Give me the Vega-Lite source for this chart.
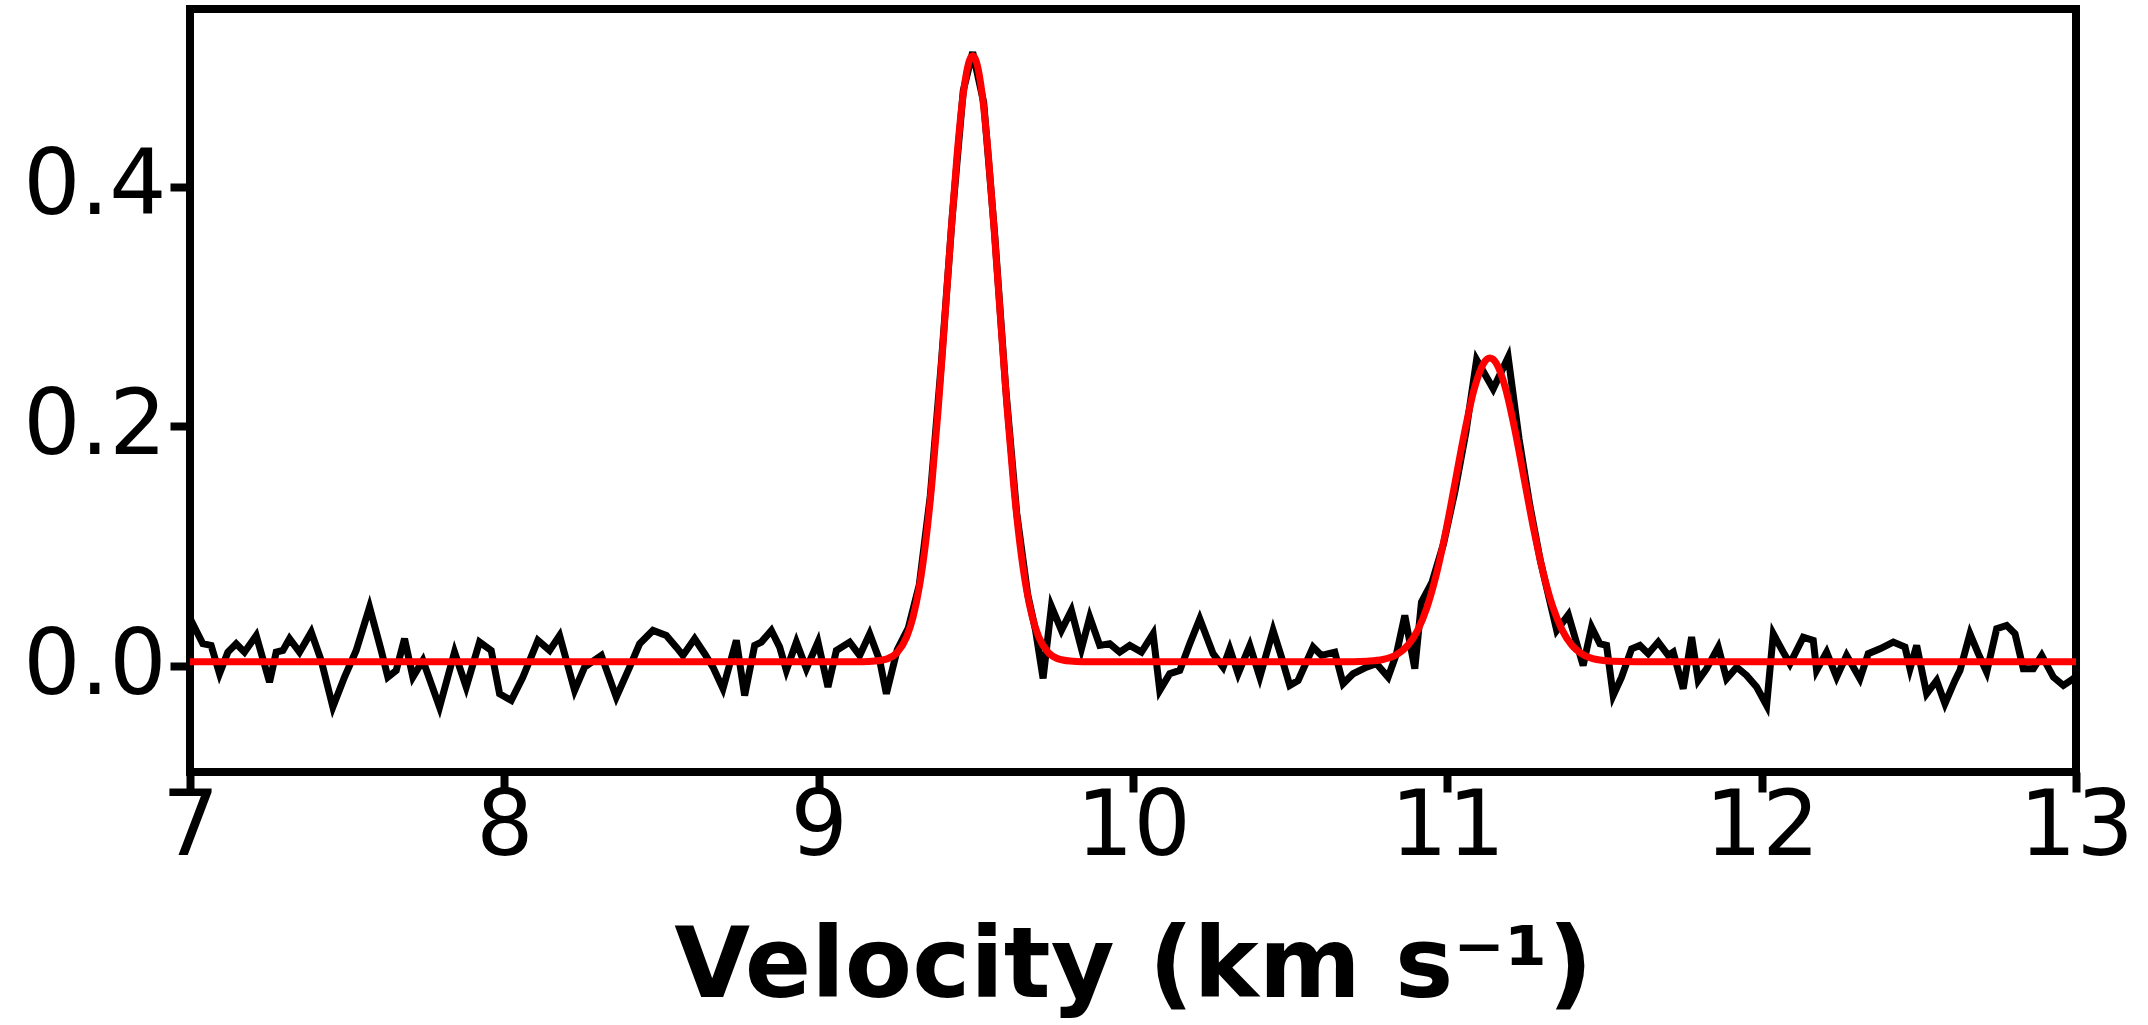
{
  "$schema": "https://vega.github.io/schema/vega-lite/v6.json",
  "autosize": {"type": "none"},
  "width": 1886,
  "height": 763,
  "padding": {"left": 190, "top": 9, "right": 72, "bottom": 253},
  "background": "white",
  "config": {
    "view": {"stroke": "#000000", "strokeWidth": 8},
    "font": "DejaVu Sans",
    "axis": {
      "domain": false,
      "grid": false,
      "ticks": true,
      "tickColor": "#000000",
      "tickWidth": 8,
      "tickSize": 20,
      "labelColor": "#000000",
      "labelFont": "DejaVu Sans",
      "labelFontSize": 90,
      "titleColor": "#000000",
      "titleFont": "DejaVu Sans",
      "titleFontWeight": "bold",
      "titleFontSize": 98
    }
  },
  "datasets": {
    "spec": [
      {"v": 7.0, "t": 0.040}, {"v": 7.0408, "t": 0.0189}, {"v": 7.0673, "t": 0.0175}, {"v": 7.0939, "t": -0.0061},
      {"v": 7.1204, "t": 0.0119}, {"v": 7.1469, "t": 0.0189}, {"v": 7.1734, "t": 0.0119}, {"v": 7.2106, "t": 0.0258},
      {"v": 7.2530, "t": -0.0131}, {"v": 7.2742, "t": 0.0119}, {"v": 7.2954, "t": 0.0133}, {"v": 7.3166, "t": 0.0231},
      {"v": 7.3484, "t": 0.0119}, {"v": 7.3856, "t": 0.0286}, {"v": 7.4174, "t": 0.005}, {"v": 7.4545, "t": -0.0339},
      {"v": 7.4916, "t": -0.0089}, {"v": 7.5287, "t": 0.0133}, {"v": 7.5712, "t": 0.0494}, {"v": 7.6083, "t": 0.0133},
      {"v": 7.6295, "t": -0.0089}, {"v": 7.6560, "t": -0.0033}, {"v": 7.6825, "t": 0.0231}, {"v": 7.7090, "t": -0.0089},
      {"v": 7.7409, "t": 0.005}, {"v": 7.7939, "t": -0.0339}, {"v": 7.8416, "t": 0.0119}, {"v": 7.8788, "t": -0.0172},
      {"v": 7.9212, "t": 0.0203}, {"v": 7.9583, "t": 0.0133}, {"v": 7.9849, "t": -0.0228}, {"v": 8.0220, "t": -0.0283},
      {"v": 8.0591, "t": -0.0089}, {"v": 8.1068, "t": 0.0217}, {"v": 8.1440, "t": 0.0133}, {"v": 8.1758, "t": 0.0258},
      {"v": 8.2236, "t": -0.02}, {"v": 8.2554, "t": -0.0006}, {"v": 8.3085, "t": 0.0092}, {"v": 8.3562, "t": -0.0256},
      {"v": 8.3986, "t": -0.0006}, {"v": 8.4304, "t": 0.0189}, {"v": 8.4728, "t": 0.030}, {"v": 8.5153, "t": 0.0258},
      {"v": 8.5471, "t": 0.0161}, {"v": 8.5682, "t": 0.0092}, {"v": 8.6054, "t": 0.0231}, {"v": 8.6372, "t": 0.0106},
      {"v": 8.6637, "t": -0.0006}, {"v": 8.6955, "t": -0.0186}, {"v": 8.7381, "t": 0.0217}, {"v": 8.7645, "t": -0.0242},
      {"v": 8.7964, "t": 0.0175}, {"v": 8.8176, "t": 0.0203}, {"v": 8.8495, "t": 0.030}, {"v": 8.8759, "t": 0.0161},
      {"v": 8.8972, "t": -0.0033}, {"v": 8.9290, "t": 0.0203}, {"v": 8.9609, "t": -0.0019}, {"v": 8.9978, "t": 0.0203},
      {"v": 9.0296, "t": -0.0172}, {"v": 9.0563, "t": 0.0133}, {"v": 9.0987, "t": 0.0203}, {"v": 9.1305, "t": 0.0092},
      {"v": 9.1623, "t": 0.0272}, {"v": 9.1941, "t": 0.005}, {"v": 9.2154, "t": -0.0228},
      {"v": 9.250, "t": 0.014}, {"v": 9.285, "t": 0.032}, {"v": 9.320, "t": 0.068}, {"v": 9.355, "t": 0.142},
      {"v": 9.390, "t": 0.252}, {"v": 9.425, "t": 0.375}, {"v": 9.460, "t": 0.480}, {"v": 9.490, "t": 0.512},
      {"v": 9.525, "t": 0.470}, {"v": 9.560, "t": 0.360}, {"v": 9.595, "t": 0.232}, {"v": 9.630, "t": 0.128},
      {"v": 9.665, "t": 0.060}, {"v": 9.690, "t": 0.030}, {"v": 9.714, "t": -0.010}, {"v": 9.7405, "t": 0.050},
      {"v": 9.7723, "t": 0.030}, {"v": 9.8041, "t": 0.0467}, {"v": 9.8360, "t": 0.0147}, {"v": 9.8624, "t": 0.0411},
      {"v": 9.8942, "t": 0.0175}, {"v": 9.9260, "t": 0.0189}, {"v": 9.9578, "t": 0.0119}, {"v": 9.9897, "t": 0.0175},
      {"v": 10.0268, "t": 0.0119}, {"v": 10.0639, "t": 0.0272}, {"v": 10.0851, "t": -0.020}, {"v": 10.1170, "t": -0.0061},
      {"v": 10.1488, "t": -0.0033}, {"v": 10.1806, "t": 0.0189}, {"v": 10.2124, "t": 0.0397}, {"v": 10.2548, "t": 0.0106},
      {"v": 10.2867, "t": -0.0006}, {"v": 10.3079, "t": 0.0147}, {"v": 10.3344, "t": -0.0061}, {"v": 10.3716, "t": 0.0175},
      {"v": 10.4034, "t": -0.0089}, {"v": 10.4456, "t": 0.030}, {"v": 10.4724, "t": 0.0078}, {"v": 10.4988, "t": -0.0158},
      {"v": 10.5253, "t": -0.0117}, {"v": 10.5730, "t": 0.0161}, {"v": 10.5996, "t": 0.0092}, {"v": 10.6420, "t": 0.0119},
      {"v": 10.6684, "t": -0.0144}, {"v": 10.7002, "t": -0.0061}, {"v": 10.7429, "t": -0.0006}, {"v": 10.7747, "t": 0.0022},
      {"v": 10.8116, "t": -0.0089}, {"v": 10.8383, "t": 0.0106}, {"v": 10.8647, "t": 0.0425}, {"v": 10.8965, "t": -0.0019},
      {"v": 10.9178, "t": 0.0536}, {"v": 10.9510, "t": 0.070}, {"v": 10.9876, "t": 0.102}, {"v": 11.0242, "t": 0.146},
      {"v": 11.0590, "t": 0.195}, {"v": 11.0931, "t": 0.2556}, {"v": 11.1459, "t": 0.2314}, {"v": 11.1936, "t": 0.2578},
      {"v": 11.2280, "t": 0.190}, {"v": 11.2620, "t": 0.135}, {"v": 11.2960, "t": 0.088}, {"v": 11.3300, "t": 0.050},
      {"v": 11.3480, "t": 0.030}, {"v": 11.3850, "t": 0.043}, {"v": 11.4321, "t": 0.0008}, {"v": 11.4589, "t": 0.0328},
      {"v": 11.4853, "t": 0.0189}, {"v": 11.5066, "t": 0.0175}, {"v": 11.5276, "t": -0.0242}, {"v": 11.5543, "t": -0.0089},
      {"v": 11.5862, "t": 0.0147}, {"v": 11.6126, "t": 0.0175}, {"v": 11.6391, "t": 0.0106}, {"v": 11.6709, "t": 0.0203},
      {"v": 11.7027, "t": 0.0092}, {"v": 11.7186, "t": 0.0119}, {"v": 11.7504, "t": -0.0186}, {"v": 11.7771, "t": 0.0244},
      {"v": 11.7983, "t": -0.0117}, {"v": 11.8248, "t": -0.0019}, {"v": 11.8619, "t": 0.0161}, {"v": 11.8885, "t": -0.0103},
      {"v": 11.9204, "t": -0.0006}, {"v": 11.9522, "t": -0.0075}, {"v": 11.9840, "t": -0.0172}, {"v": 12.0158, "t": -0.0325},
      {"v": 12.0370, "t": 0.0272}, {"v": 12.0686, "t": 0.0119}, {"v": 12.0899, "t": 0.0022}, {"v": 12.1323, "t": 0.0244},
      {"v": 12.1641, "t": 0.0217}, {"v": 12.1748, "t": -0.0033}, {"v": 12.2066, "t": 0.0119}, {"v": 12.2384, "t": -0.0089},
      {"v": 12.2702, "t": 0.0092}, {"v": 12.3126, "t": -0.0103}, {"v": 12.3391, "t": 0.0106}, {"v": 12.3763, "t": 0.0147},
      {"v": 12.4187, "t": 0.0203}, {"v": 12.4560, "t": 0.0161}, {"v": 12.4719, "t": -0.0019}, {"v": 12.4931, "t": 0.0175},
      {"v": 12.5249, "t": -0.0228}, {"v": 12.5567, "t": -0.0117}, {"v": 12.5831, "t": -0.0311}, {"v": 12.6150, "t": -0.0117},
      {"v": 12.6309, "t": -0.0033}, {"v": 12.6627, "t": 0.0272}, {"v": 12.6892, "t": 0.0106}, {"v": 12.7159, "t": -0.0047},
      {"v": 12.7477, "t": 0.0314}, {"v": 12.7795, "t": 0.0342}, {"v": 12.8060, "t": 0.0272}, {"v": 12.8324, "t": -0.0019},
      {"v": 12.8643, "t": -0.0019}, {"v": 12.8910, "t": 0.0092}, {"v": 12.9280, "t": -0.0089}, {"v": 12.9598, "t": -0.0158},
      {"v": 12.9916, "t": -0.0103}, {"v": 13.0, "t": -0.008}
    ],
    "fit": [
      {"v": 7.0, "t": 0.004}, {"v": 9.14, "t": 0.004}, {"v": 9.18, "t": 0.0045}, {"v": 9.22, "t": 0.0065},
      {"v": 9.25, "t": 0.0117}, {"v": 9.28, "t": 0.0246}, {"v": 9.30, "t": 0.0408}, {"v": 9.32, "t": 0.0660},
      {"v": 9.34, "t": 0.1026}, {"v": 9.36, "t": 0.1521}, {"v": 9.38, "t": 0.2138}, {"v": 9.40, "t": 0.2845},
      {"v": 9.42, "t": 0.3579}, {"v": 9.44, "t": 0.4252}, {"v": 9.46, "t": 0.4771}, {"v": 9.48, "t": 0.5054},
      {"v": 9.49, "t": 0.5090}, {"v": 9.50, "t": 0.5054}, {"v": 9.52, "t": 0.4771}, {"v": 9.54, "t": 0.4252},
      {"v": 9.56, "t": 0.3579}, {"v": 9.58, "t": 0.2845}, {"v": 9.60, "t": 0.2138}, {"v": 9.62, "t": 0.1521},
      {"v": 9.64, "t": 0.1026}, {"v": 9.66, "t": 0.0660}, {"v": 9.68, "t": 0.0408}, {"v": 9.70, "t": 0.0246},
      {"v": 9.73, "t": 0.0117}, {"v": 9.76, "t": 0.0065}, {"v": 9.80, "t": 0.0045}, {"v": 9.84, "t": 0.004},
      {"v": 10.70, "t": 0.004}, {"v": 10.745, "t": 0.0044}, {"v": 10.795, "t": 0.0058},
      {"v": 10.835, "t": 0.0093}, {"v": 10.875, "t": 0.0178}, {"v": 10.905, "t": 0.0299}, {"v": 10.935, "t": 0.0491},
      {"v": 10.965, "t": 0.0767}, {"v": 10.995, "t": 0.1124}, {"v": 11.025, "t": 0.1538}, {"v": 11.055, "t": 0.1955},
      {"v": 11.085, "t": 0.2307}, {"v": 11.115, "t": 0.2524}, {"v": 11.135, "t": 0.2570}, {"v": 11.155, "t": 0.2530},
      {"v": 11.185, "t": 0.2319}, {"v": 11.215, "t": 0.1971}, {"v": 11.245, "t": 0.1555}, {"v": 11.275, "t": 0.1140},
      {"v": 11.305, "t": 0.0780}, {"v": 11.335, "t": 0.0500}, {"v": 11.365, "t": 0.0305}, {"v": 11.395, "t": 0.0181},
      {"v": 11.435, "t": 0.0094}, {"v": 11.475, "t": 0.0058}, {"v": 11.525, "t": 0.0044}, {"v": 11.60, "t": 0.004},
      {"v": 13.0, "t": 0.004}
    ]
  },
  "encoding": {
    "x": {
      "field": "v", "type": "quantitative",
      "scale": {"domain": [7, 13], "nice": false, "zero": false},
      "axis": {"values": [7, 8, 9, 10, 11, 12, 13], "format": "d", "labelPadding": -9, "title": "Velocity (km s⁻¹)", "titlePadding": 47, "labelFlush": false}
    },
    "y": {
      "field": "t", "type": "quantitative",
      "scale": {"domain": [-0.088, 0.548], "nice": false, "zero": false},
      "axis": {"values": [0, 0.2, 0.4], "format": ".1f", "labelPadding": 4, "title": null, "labelFlush": false}
    }
  },
  "layer": [
    {
      "mark": {"type": "rule", "color": "#808080", "strokeWidth": 2, "strokeDash": [3, 5.5]},
      "encoding": {"y": {"datum": 0}, "x": null}
    },
    {
      "data": {"name": "spec"},
      "mark": {"type": "line", "color": "#000000", "strokeWidth": 7, "interpolate": "linear"}
    },
    {
      "data": {"name": "fit"},
      "mark": {"type": "line", "color": "#ff0000", "strokeWidth": 7, "interpolate": "monotone"}
    }
  ]
}
